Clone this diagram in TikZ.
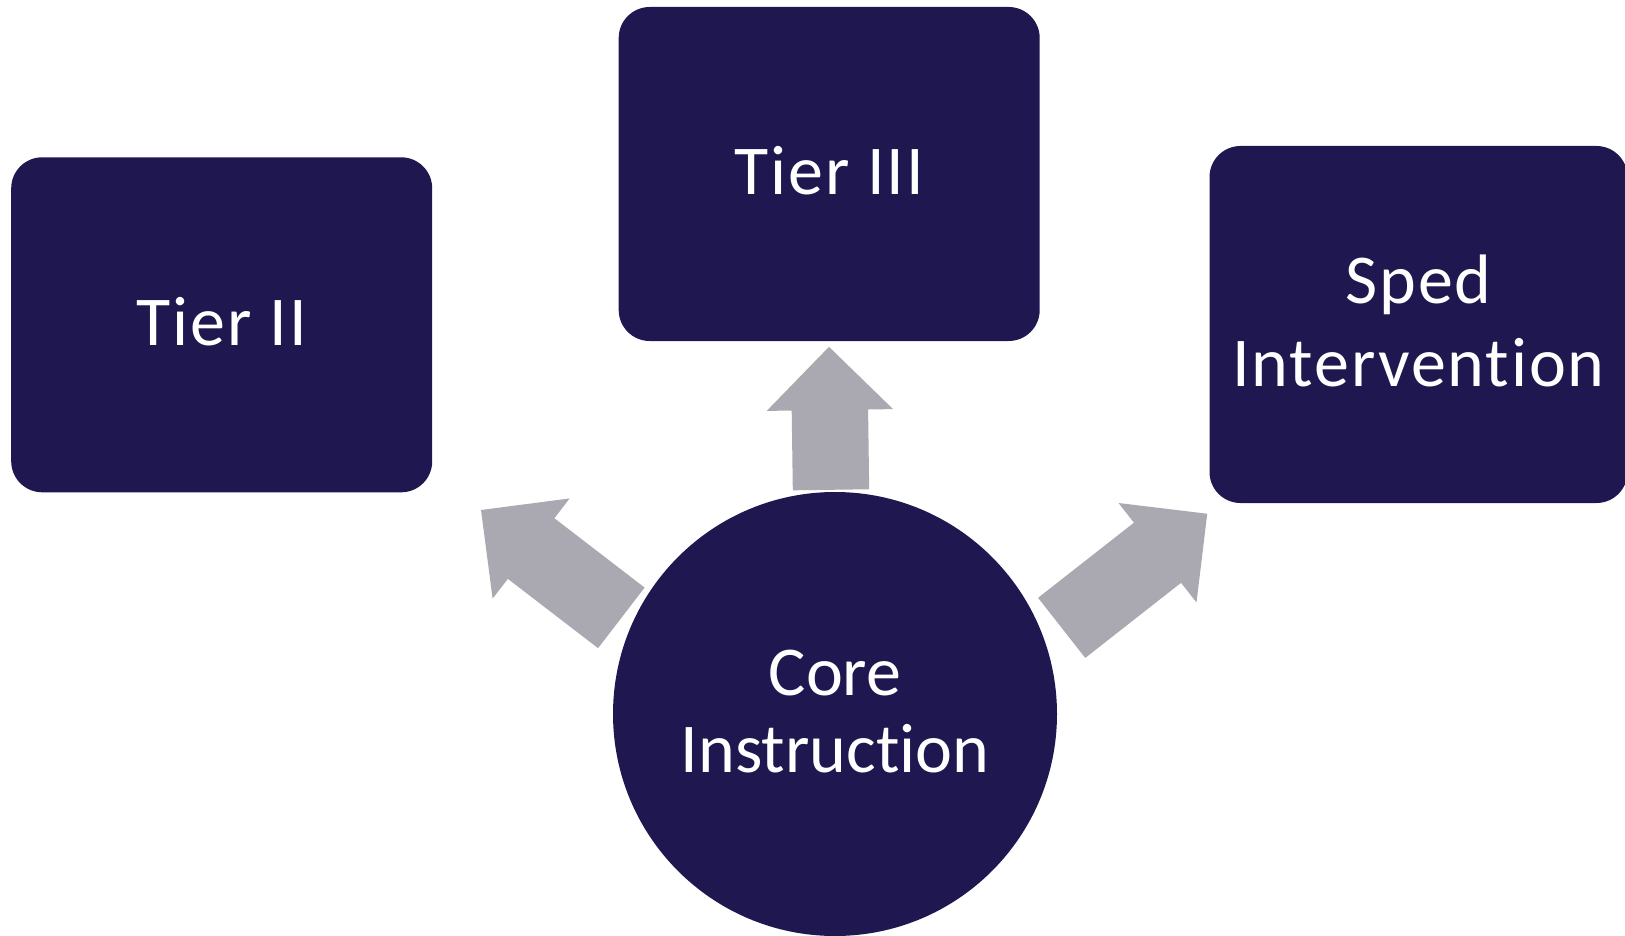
\documentclass[tikz,border=0pt]{standalone}
\usepackage{fontspec}
\setmainfont{Carlito}[RawFeature={-liga}, LetterSpace=2.7]
\newfontfamily\corefont{Carlito}[RawFeature={-liga}]
\usetikzlibrary{shapes.arrows}
\definecolor{navy}{HTML}{1F1750}
\definecolor{arrowgray}{HTML}{AAA9B1}
\begin{document}
\begin{tikzpicture}[x=1pt,y=-1pt,
  tierbox/.style={fill=navy, draw=none, rounded corners=31pt, text=white,
    align=center, font=\fontsize{70}{83}\selectfont, inner sep=0pt,
    text depth=7pt},
  corecircle/.style={circle, fill=navy, draw=none, text=white, align=center,
    font=\corefont\fontsize{70}{77}\selectfont, inner sep=0pt, minimum size=444pt,
    text depth=5pt},
  blockarrow/.style={single arrow, fill=arrowgray, draw=none,
    single arrow tip angle=90, single arrow head extend=25pt,
    text height=0pt, text depth=0pt, inner xsep=0pt, inner ysep=38pt,
    anchor=tail}
]
\useasboundingbox (0,0) rectangle (1625,936);

% the three tiers
\node[tierbox, minimum width=421pt, minimum height=335pt] (tierII) at (221.7,324.8) {Tier II};
\node[tierbox, minimum width=421pt, minimum height=334pt] (tierIII) at (829.2,174) {Tier III};
\node[tierbox, minimum width=418pt, minimum height=357pt] (sped) at (1418.5,324.5) {Sped\\Intervention};

% core instruction at the hub
\node[corecircle] (core) at (835,714) {Core\\Instruction};

% block arrows pointing from the hub to each tier
\coordinate (upTail) at (831,490);
\coordinate (leftTail) at (621.5,618);
\coordinate (rightTail) at (1061.5,628);
\node[blockarrow, minimum height=143pt, rotate=90.8] (toTierIII) at (upTail) {};
\node[blockarrow, minimum height=177pt, rotate=142.45] (toTierII) at (leftTail) {};
\node[blockarrow, minimum height=185pt, rotate=38.1] (toSped) at (rightTail) {};
\end{tikzpicture}
\end{document}
